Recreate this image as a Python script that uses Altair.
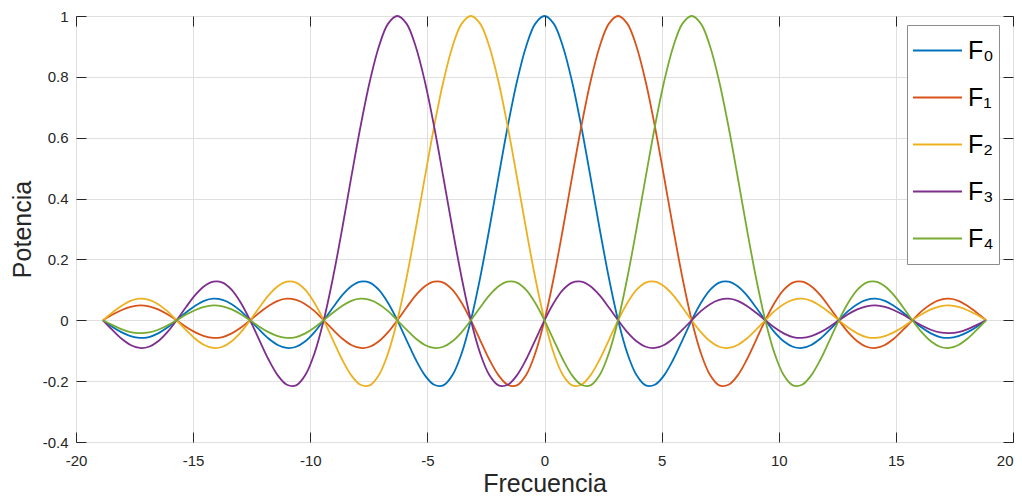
import altair as alt
import pandas as pd

# Frequency samples (steps of pi/8 from -6*pi to 6*pi)
freq = [
    -18.850, -18.457, -18.064, -17.671, -17.279, -16.886, -16.493, -16.101,
    -15.708, -15.315, -14.923, -14.530, -14.137, -13.744, -13.352, -12.959,
    -12.566, -12.174, -11.781, -11.388, -10.996, -10.603, -10.210, -9.817,
    -9.425, -9.032, -8.639, -8.247, -7.854, -7.461, -7.069, -6.676,
    -6.283, -5.890, -5.498, -5.105, -4.712, -4.320, -3.927, -3.534,
    -3.142, -2.749, -2.356, -1.963, -1.571, -1.178, -0.785, -0.393,
    0.000, 0.393, 0.785, 1.178, 1.571, 1.963, 2.356, 2.749,
    3.142, 3.534, 3.927, 4.320, 4.712, 5.105, 5.498, 5.890,
    6.283, 6.676, 7.069, 7.461, 7.854, 8.247, 8.639, 9.032,
    9.425, 9.817, 10.210, 10.603, 10.996, 11.388, 11.781, 12.174,
    12.566, 12.959, 13.352, 13.744, 14.137, 14.530, 14.923, 15.315,
    15.708, 16.101, 16.493, 16.886, 17.279, 17.671, 18.064, 18.457,
    18.850]

F0 = [
    0, -0.021, -0.039, -0.052, -0.058, -0.055, -0.043, -0.024,
    0, 0.025, 0.047, 0.064, 0.071, 0.067, 0.053, 0.030,
    0, -0.031, -0.060, -0.081, -0.091, -0.087, -0.069, -0.039,
    0, 0.042, 0.082, 0.112, 0.127, 0.124, 0.100, 0.057,
    0, -0.065, -0.129, -0.181, -0.212, -0.214, -0.180, -0.108,
    0, 0.139, 0.300, 0.471, 0.637, 0.784, 0.900, 0.975,
    1.000, 0.975, 0.900, 0.784, 0.637, 0.471, 0.300, 0.139,
    0, -0.108, -0.180, -0.214, -0.212, -0.181, -0.129, -0.065,
    0, 0.057, 0.100, 0.124, 0.127, 0.112, 0.082, 0.042,
    0, -0.039, -0.069, -0.087, -0.091, -0.081, -0.060, -0.031,
    0, 0.030, 0.053, 0.067, 0.071, 0.064, 0.047, 0.025,
    0, -0.024, -0.043, -0.055, -0.058, -0.052, -0.039, -0.021,
    0]

F1 = [
    0, 0.018, 0.033, 0.044, 0.049, 0.046, 0.036, 0.020,
    0, -0.021, -0.039, -0.052, -0.058, -0.055, -0.043, -0.024,
    0, 0.025, 0.047, 0.064, 0.071, 0.067, 0.053, 0.030,
    0, -0.031, -0.060, -0.081, -0.091, -0.087, -0.069, -0.039,
    0, 0.042, 0.082, 0.112, 0.127, 0.124, 0.100, 0.057,
    0, -0.065, -0.129, -0.181, -0.212, -0.214, -0.180, -0.108,
    0, 0.139, 0.300, 0.471, 0.637, 0.784, 0.900, 0.975,
    1.000, 0.975, 0.900, 0.784, 0.637, 0.471, 0.300, 0.139,
    0, -0.108, -0.180, -0.214, -0.212, -0.181, -0.129, -0.065,
    0, 0.057, 0.100, 0.124, 0.127, 0.112, 0.082, 0.042,
    0, -0.039, -0.069, -0.087, -0.091, -0.081, -0.060, -0.031,
    0, 0.030, 0.053, 0.067, 0.071, 0.064, 0.047, 0.025,
    0]

F2 = [
    0, 0.025, 0.047, 0.064, 0.071, 0.067, 0.053, 0.030,
    0, -0.031, -0.060, -0.081, -0.091, -0.087, -0.069, -0.039,
    0, 0.042, 0.082, 0.112, 0.127, 0.124, 0.100, 0.057,
    0, -0.065, -0.129, -0.181, -0.212, -0.214, -0.180, -0.108,
    0, 0.139, 0.300, 0.471, 0.637, 0.784, 0.900, 0.975,
    1.000, 0.975, 0.900, 0.784, 0.637, 0.471, 0.300, 0.139,
    0, -0.108, -0.180, -0.214, -0.212, -0.181, -0.129, -0.065,
    0, 0.057, 0.100, 0.124, 0.127, 0.112, 0.082, 0.042,
    0, -0.039, -0.069, -0.087, -0.091, -0.081, -0.060, -0.031,
    0, 0.030, 0.053, 0.067, 0.071, 0.064, 0.047, 0.025,
    0, -0.024, -0.043, -0.055, -0.058, -0.052, -0.039, -0.021,
    0, 0.020, 0.036, 0.046, 0.049, 0.044, 0.033, 0.018,
    0]

F3 = [
    0, -0.031, -0.060, -0.081, -0.091, -0.087, -0.069, -0.039,
    0, 0.042, 0.082, 0.112, 0.127, 0.124, 0.100, 0.057,
    0, -0.065, -0.129, -0.181, -0.212, -0.214, -0.180, -0.108,
    0, 0.139, 0.300, 0.471, 0.637, 0.784, 0.900, 0.975,
    1.000, 0.975, 0.900, 0.784, 0.637, 0.471, 0.300, 0.139,
    0, -0.108, -0.180, -0.214, -0.212, -0.181, -0.129, -0.065,
    0, 0.057, 0.100, 0.124, 0.127, 0.112, 0.082, 0.042,
    0, -0.039, -0.069, -0.087, -0.091, -0.081, -0.060, -0.031,
    0, 0.030, 0.053, 0.067, 0.071, 0.064, 0.047, 0.025,
    0, -0.024, -0.043, -0.055, -0.058, -0.052, -0.039, -0.021,
    0, 0.020, 0.036, 0.046, 0.049, 0.044, 0.033, 0.018,
    0, -0.017, -0.031, -0.040, -0.042, -0.039, -0.029, -0.015,
    0]

F4 = [
    0, -0.015, -0.029, -0.039, -0.042, -0.040, -0.031, -0.017,
    0, 0.018, 0.033, 0.044, 0.049, 0.046, 0.036, 0.020,
    0, -0.021, -0.039, -0.052, -0.058, -0.055, -0.043, -0.024,
    0, 0.025, 0.047, 0.064, 0.071, 0.067, 0.053, 0.030,
    0, -0.031, -0.060, -0.081, -0.091, -0.087, -0.069, -0.039,
    0, 0.042, 0.082, 0.112, 0.127, 0.124, 0.100, 0.057,
    0, -0.065, -0.129, -0.181, -0.212, -0.214, -0.180, -0.108,
    0, 0.139, 0.300, 0.471, 0.637, 0.784, 0.900, 0.975,
    1.000, 0.975, 0.900, 0.784, 0.637, 0.471, 0.300, 0.139,
    0, -0.108, -0.180, -0.214, -0.212, -0.181, -0.129, -0.065,
    0, 0.057, 0.100, 0.124, 0.127, 0.112, 0.082, 0.042,
    0, -0.039, -0.069, -0.087, -0.091, -0.081, -0.060, -0.031,
    0]

series_names = ["F₀", "F₁", "F₂", "F₃", "F₄"]
series_colors = ["#0072BD", "#D95319", "#EDB120", "#7E2F8E", "#77AC30"]
x_ticks = [-20, -15, -10, -5, 0, 5, 10, 15, 20]
y_ticks = [-0.4, -0.2, 0, 0.2, 0.4, 0.6, 0.8, 1]

all_series = [F0, F1, F2, F3, F4]
for s in all_series:
    assert len(s) == len(freq)

rows = []
for name, ys in zip(series_names, all_series):
    for x, y in zip(freq, ys):
        rows.append({"Frecuencia": x, "Potencia": y, "serie": name})
df = pd.DataFrame(rows)

W, H = 937, 426
FONT = "Liberation Sans"
TXT = "#262626"
GRID = "#dfdfdf"

xs = alt.Scale(domain=[-20, 20], nice=False, zero=False)
ys = alt.Scale(domain=[-0.4, 1], nice=False, zero=False)

main = alt.Chart(df).mark_line(strokeWidth=1.8, interpolate="catmull-rom").encode(
    x=alt.X("Frecuencia:Q", scale=xs, axis=alt.Axis(
        orient="bottom", values=x_ticks, title="Frecuencia", grid=True, gridColor=GRID,
        ticks=False, tickSize=0, domain=False, labelExpr="'' + datum.value",
        labelFlush=False,
        labelAlign={"condition": {"test": "datum.value >= 20", "value": "right"},
                    "value": "center"},
        labelFont=FONT, labelFontSize=15, labelColor=TXT,
        labelPadding=11, titleFont=FONT, titleFontSize=25, titleFontWeight="normal",
        titleColor=TXT, titlePadding=3)),
    y=alt.Y("Potencia:Q", scale=ys, axis=alt.Axis(
        orient="left", values=y_ticks, title="Potencia", grid=True, gridColor=GRID,
        ticks=False, tickSize=0, domain=False, labelExpr="'' + datum.value",
        labelFlush=False, labelFont=FONT, labelFontSize=15, labelColor=TXT,
        labelPadding=8, titleFont=FONT, titleFontSize=25, titleFontWeight="normal",
        titleColor=TXT, titlePadding=7)),
    color=alt.Color("serie:N", scale=alt.Scale(domain=series_names, range=series_colors),
                    legend=alt.Legend(
                        title=None, orient="none", legendX=831, legendY=9,
                        symbolType="stroke", symbolSize=2401, symbolStrokeWidth=2,
                        labelFont=FONT, labelFontSize=25, labelColor="#000000",
                        labelOffset=5, padding=5, rowPadding=6, clipHeight=41,
                        strokeColor="#8c8c8c", fillColor="#ffffff")),
)

tick_style = dict(labels=False, domain=False, grid=False, ticks=True, tickSize=10,
                  tickColor=TXT, tickWidth=1, zindex=2, title="")

ticks_a = alt.Chart(df).mark_point(opacity=0).encode(
    x=alt.X("Frecuencia:Q", scale=xs,
            axis=alt.Axis(orient="top", offset=-H, values=x_ticks, **tick_style)),
    y=alt.Y("Potencia:Q", scale=ys,
            axis=alt.Axis(orient="right", offset=-W, values=y_ticks, **tick_style)),
)

ticks_b = alt.Chart(df).mark_point(opacity=0).encode(
    x=alt.X("Frecuencia:Q", scale=xs,
            axis=alt.Axis(orient="bottom", offset=-H, values=x_ticks, **tick_style)),
    y=alt.Y("Potencia:Q", scale=ys,
            axis=alt.Axis(orient="left", offset=-W, values=y_ticks, **tick_style)),
)

chart = alt.layer(main, ticks_a, ticks_b).resolve_axis(
    x="independent", y="independent"
).properties(
    width=W, height=H,
    autosize=alt.AutoSizeParams(type="none"),
    padding={"left": 68, "top": 8, "right": 1, "bottom": 54},
).configure_view(stroke=TXT, strokeWidth=1)

chart.save("out.html", embed_options={"renderer": "svg", "actions": False})
